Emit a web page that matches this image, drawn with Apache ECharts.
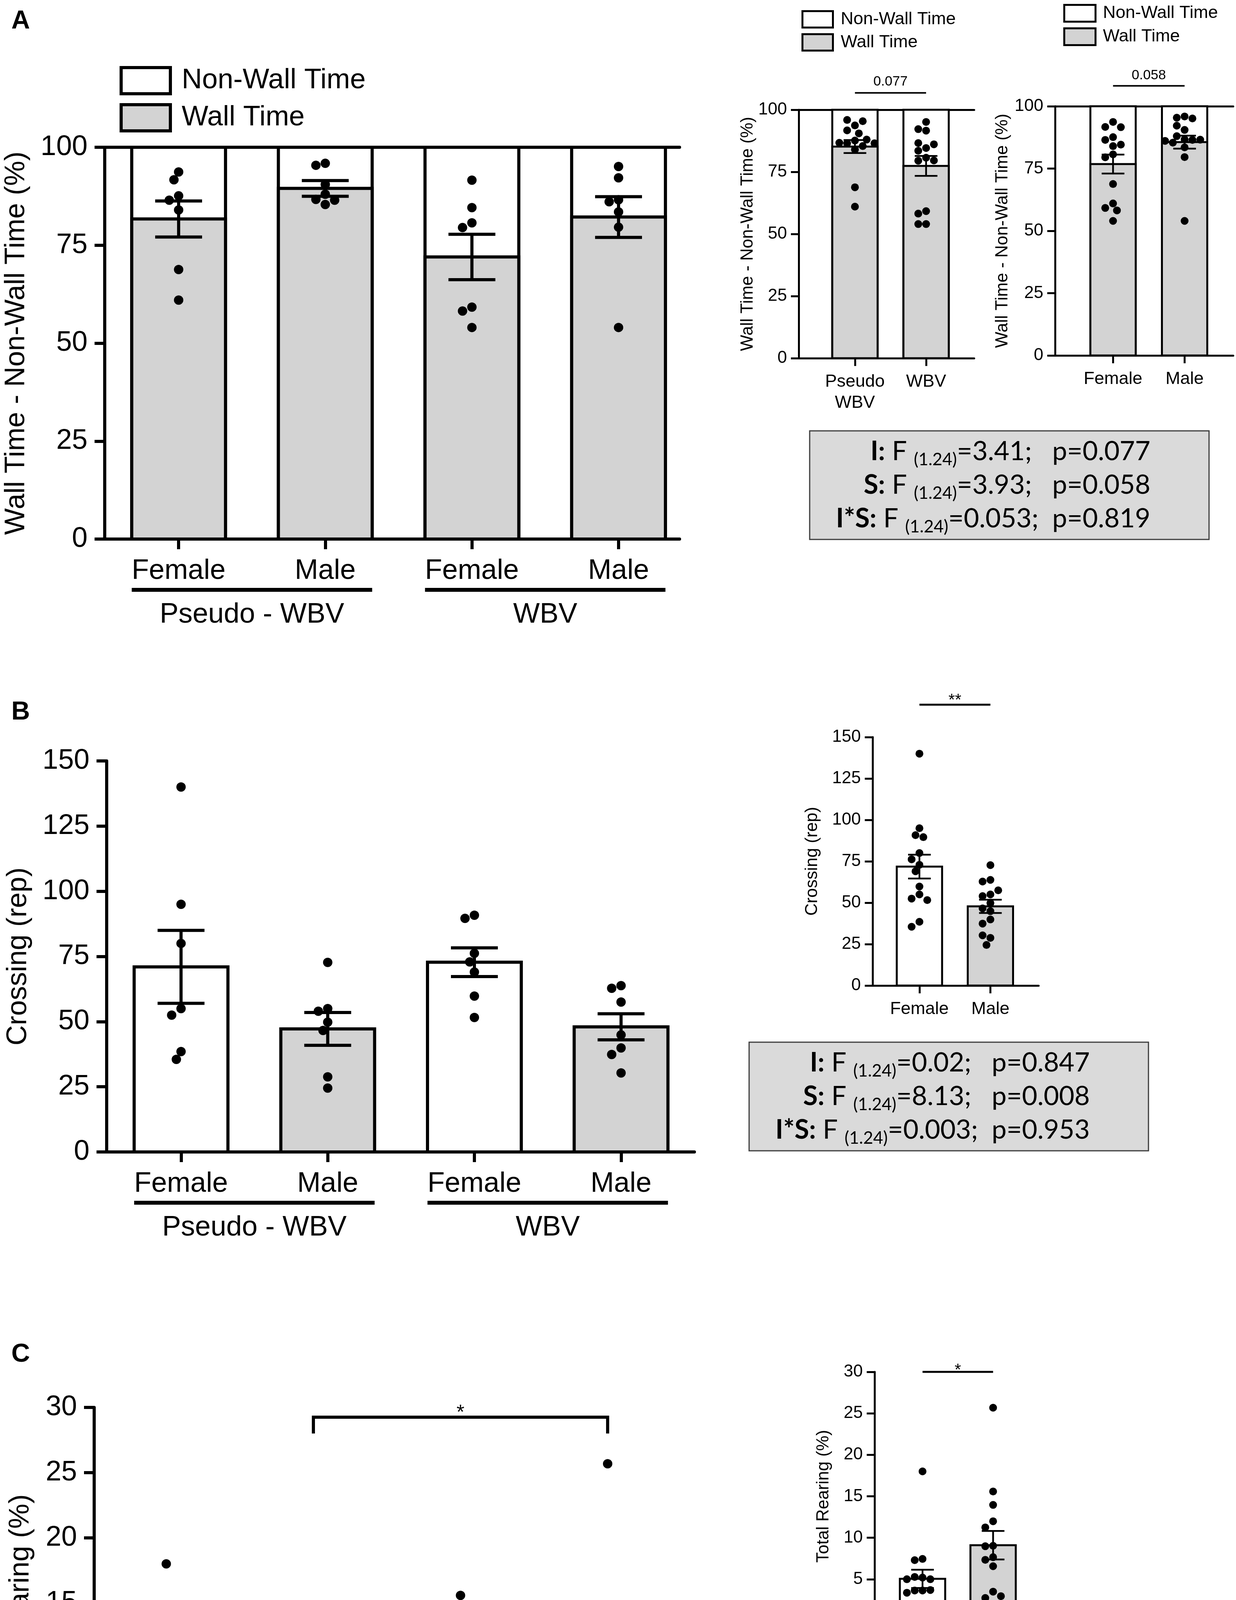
<!DOCTYPE html>
<html>
<head>
<meta charset="utf-8">
<title>Wall time, crossing and rearing</title>
<script src="https://cdn.jsdelivr.net/npm/echarts@6/dist/echarts.min.js"></script>
<style>
  html, body { margin: 0; padding: 0; background: #fff; }
  #chart { width: 3163px; height: 4832px; }
</style>
</head>
<body>
<div id="chart"></div>
<script>
// ---------- data ----------
var sexCats = ['Female', 'Male', 'Female', 'Male'];
var groupNames = ['Pseudo - WBV', 'WBV'];
var treatCats = ['Pseudo\nWBV', 'WBV'];
var sexPair = ['Female', 'Male'];

// A - wall time (%), order: pseudo F, pseudo M, WBV F, WBV M
var aDots = [
  [93.7, 91.7, 87.6, 86.5, 84.0, 68.8, 61.0],
  [95.9, 95.4, 90.5, 88.0, 86.7, 86.5, 85.4],
  [91.6, 84.6, 80.7, 79.5, 59.2, 58.2, 54.0],
  [95.1, 92.2, 86.6, 86.1, 83.5, 79.6, 54.0]
];
var aMean = [81.7, 89.5, 72.0, 82.2];
var aSem = [4.6, 2.0, 5.8, 5.2];
var aTotal = [100, 100, 100, 100];
var aTreatMean = [85.2, 77.4];
var aTreatSem = [2.6, 4.0];
var aSexMean = [76.8, 85.6];
var aSexSem = [3.8, 2.6];

// B - crossing (rep)
var bDots = [
  [140, 95, 80, 55, 52.5, 38.5, 35.5],
  [72.7, 55, 54, 49.8, 46.6, 28.8, 24.5],
  [90.8, 89.6, 76.2, 72.9, 69, 59.8, 51.6],
  [63.8, 62.8, 57.5, 44.9, 39.9, 37.4, 30.3]
];
var bMean = [71.0, 47.2, 72.8, 48.0];
var bSem = [14.0, 6.3, 5.5, 5.0];
var bSexMean = [71.8, 47.8];
var bSexSem = [7.2, 4.0];

// C - total rearing (%)
var cDots = [
  [18.0, 7.45, 7.3, 5.2, 3.64, 3.64, 1.94],
  [5.28, 5.0, 5.0, 3.7, 3.37, 1.59, 0.27],
  [15.58, 7.66, 7.34, 6.57, 3.5, 2.74, 0.77],
  [25.68, 13.96, 11.99, 11.25, 9.03, 8.98, 2.96]
];
var cMean = [6.75, 3.45, 6.3, 12.0];
var cSem = [2.0, 0.72, 1.85, 2.6];
var cTreatMean = [5.05, 9.1];
var cTreatSem = [1.1, 1.72];

// two-way ANOVA boxes: term, F, p
var statsA = [['I', '3.41', '0.077'], ['S', '3.93', '0.058'], ['I*S', '0.053', '0.819']];
var statsB = [['I', '0.02', '0.847'], ['S', '8.13', '0.008'], ['I*S', '0.003', '0.953']];
var statsC = [['I', '4.42', '0.046'], ['S', '0.38', '0.541'], ['I*S', '5.48', '0.027']];

// ---------- drawing ----------
var FONT = '"Liberation Sans", Arial, Helvetica, sans-serif';
var BOXFONT = 'Lato, "Open Sans", sans-serif';
var GRAY = '#d3d3d3';

var option = {
  backgroundColor: '#fff',
  animation: false,
  grid: [], xAxis: [], yAxis: [], series: [], legend: [], graphic: []
};

// greedy bee-swarm: returns horizontal pixel offsets for each value
function swarm(vals, pxPerUnit, dia) {
  var placed = [], offs = [];
  vals.forEach(function (v) {
    var y = v * pxPerUnit;
    for (var k = 0; k < 40; k++) {
      var dx = (k % 2 ? -1 : 1) * Math.ceil(k / 2) * dia * 0.5;
      var ok = placed.every(function (p) {
        var ddx = p[0] - dx, ddy = p[1] - y;
        return ddx * ddx + ddy * ddy >= dia * dia * 0.92;
      });
      if (ok) { placed.push([dx, y]); offs.push(dx); return; }
    }
    offs.push(0);
  });
  return offs;
}

function addPanel(p) {
  var st = p.main
    ? { axW: 8, tick: 26, font: 72, barW: 240, border: 8, dot: 24, err: 8, cap: 120, lblMargin: 46, lblLH: 72, yMargin: 44 }
    : { axW: 5, tick: 20, font: 45, barW: 116, border: 5, dot: 20, err: 4.5, cap: 58, lblMargin: 34, lblLH: 54, yMargin: 30 };
  var gi = option.grid.length;
  option.grid.push({ left: p.box[0], top: p.box[1], width: p.box[2], height: p.box[3] });
  var ticks = p.cats.map(function (c, i) { return i; });
  var xi = option.xAxis.length;
  option.xAxis.push({
    type: 'value', gridIndex: gi, min: p.xMin, max: p.xMax,
    axisLine: { show: true, onZero: false, lineStyle: { color: '#000', width: st.axW } },
    axisTick: { show: true, customValues: ticks, length: st.tick, lineStyle: { color: '#000', width: st.axW } },
    axisLabel: {
      customValues: ticks, color: '#000', fontSize: st.font, fontFamily: FONT,
      margin: st.lblMargin, lineHeight: st.lblLH,
      formatter: function (v) { return p.cats[Math.round(v)]; }
    },
    splitLine: { show: false }
  });
  if (p.topLine) {
    option.xAxis.push({
      type: 'value', gridIndex: gi, position: 'top', min: p.xMin, max: p.xMax,
      axisLine: { show: true, onZero: false, lineStyle: { color: '#000', width: st.axW } },
      axisTick: { show: false }, axisLabel: { show: false }, splitLine: { show: false }
    });
  }
  var yi = option.yAxis.length;
  option.yAxis.push({
    type: 'value', gridIndex: gi, min: 0, max: p.yMax, interval: p.yStep,
    name: p.yName, nameLocation: 'middle', nameGap: p.nameGap,
    nameTextStyle: { color: '#000', fontSize: p.main ? 72 : 44, fontFamily: FONT },
    axisLine: { show: true, onZero: false, lineStyle: { color: '#000', width: st.axW } },
    axisTick: { show: true, length: st.tick, lineStyle: { color: '#000', width: st.axW } },
    axisLabel: { color: '#000', fontSize: p.main ? 72 : 44, fontFamily: FONT, margin: st.yMargin },
    splitLine: { show: false }
  });
  var common = { type: 'custom', xAxisIndex: xi, yAxisIndex: yi, clip: false, encode: { x: 0, y: 1 }, silent: true };

  // bars
  p.layers.forEach(function (L, li) {
    option.series.push(Object.assign({}, common, {
      name: L.name, z: 2 + li,
      itemStyle: { color: L.fill[0] },
      data: L.values.map(function (v, i) { return [i, v]; }),
      renderItem: function (params, api) {
        var base = api.coord([api.value(0), 0]);
        var top = api.coord([api.value(0), api.value(1)]);
        return {
          type: 'rect',
          shape: { x: base[0] - st.barW / 2, y: top[1], width: st.barW, height: base[1] - top[1] },
          style: { fill: L.fill[params.dataIndex % L.fill.length], stroke: '#000', lineWidth: st.border }
        };
      }
    }));
  });

  // dots
  var pxPerUnit = p.box[3] / p.yMax;
  var dotData = [];
  p.dots.forEach(function (vals, i) {
    var offs = swarm(vals, pxPerUnit, st.dot);
    vals.forEach(function (v, j) { dotData.push([i, v, offs[j]]); });
  });
  option.series.push(Object.assign({}, common, {
    name: 'dots', z: 6, data: dotData,
    renderItem: function (params, api) {
      var c = api.coord([api.value(0), api.value(1)]);
      return { type: 'circle', shape: { cx: c[0] + api.value(2), cy: c[1], r: st.dot / 2 }, style: { fill: '#000' } };
    }
  }));

  // mean +/- SEM
  option.series.push(Object.assign({}, common, {
    name: 'sem', z: 7,
    data: p.mean.map(function (m, i) { return [i, m, p.sem[i]]; }),
    renderItem: function (params, api) {
      var x = api.value(0), m = api.value(1), s = api.value(2);
      var t = api.coord([x, m + s]), b = api.coord([x, m - s]);
      function ln(x1, y1, x2, y2) {
        return { type: 'line', shape: { x1: x1, y1: y1, x2: x2, y2: y2 }, style: { stroke: '#000', lineWidth: st.err } };
      }
      return { type: 'group', children: [
        ln(t[0], t[1], b[0], b[1]),
        ln(t[0] - st.cap / 2, t[1], t[0] + st.cap / 2, t[1]),
        ln(b[0] - st.cap / 2, b[1], b[0] + st.cap / 2, b[1])
      ] };
    }
  }));

  // group bars under the category labels
  if (p.groups) {
    option.series.push(Object.assign({}, common, {
      name: 'groups', z: 3,
      data: [[0, 0, 1], [2, 0, 3]],
      renderItem: function (params, api) {
        var a = api.coord([api.value(0), 0]), b = api.coord([api.value(2), 0]);
        var x1 = a[0] - st.barW / 2, x2 = b[0] + st.barW / 2, y = a[1] + 130;
        return { type: 'group', children: [
          { type: 'line', shape: { x1: x1, y1: y, x2: x2, y2: y }, style: { stroke: '#000', lineWidth: 10 } },
          { type: 'text', style: {
            text: groupNames[params.dataIndex], x: (x1 + x2) / 2, y: y + 64,
            fill: '#000', fontSize: 72, fontFamily: FONT,
            align: 'center', verticalAlign: 'middle', textAlign: 'center', textVerticalAlign: 'middle'
          } }
        ] };
      }
    }));
  }

  // significance line / bracket
  if (p.sig) {
    var s = p.sig;
    option.series.push(Object.assign({}, common, {
      name: 'sig', z: 3,
      data: [[s.from, s.y, s.to]],
      renderItem: function (params, api) {
        var a = api.coord([api.value(0), api.value(1)]), b = api.coord([api.value(2), api.value(1)]);
        var kids = [];
        if (s.leg != null) {
          var l = api.coord([api.value(0), s.leg]);
          kids.push({ type: 'polyline', shape: { points: [[a[0], l[1]], [a[0], a[1]], [b[0], b[1]], [b[0], l[1]]] },
            style: { stroke: '#000', lineWidth: s.lw, fill: null } });
        } else {
          kids.push({ type: 'line', shape: { x1: a[0], y1: a[1], x2: b[0], y2: b[1] }, style: { stroke: '#000', lineWidth: s.lw } });
        }
        kids.push({ type: 'text', style: {
          text: s.text, x: (a[0] + b[0]) / 2, y: a[1] - s.gap, fill: '#000', fontSize: s.font, fontFamily: FONT,
          align: 'center', verticalAlign: 'middle', textAlign: 'center', textVerticalAlign: 'middle'
        } });
        return { type: 'group', children: kids };
      }
    }));
  }
}

function wallLegend(left, top, w, h, gap, bw, font, pad) {
  option.legend.push({
    orient: 'vertical', left: left, top: top, padding: 0, itemGap: gap,
    itemWidth: w, itemHeight: h, icon: 'rect', selectedMode: false,
    data: [
      { name: 'Non-Wall Time', itemStyle: { color: '#fff', borderColor: '#000', borderWidth: bw } },
      { name: 'Wall Time', itemStyle: { color: GRAY, borderColor: '#000', borderWidth: bw } }
    ],
    textStyle: { color: '#000', fontSize: font, fontFamily: FONT, padding: [0, 0, 0, pad] }
  });
}

function statsBox(rows, x, y, w, h) {
  var lines = rows.map(function (r) {
    var pad = new Array(Math.max(2, 8 - r[1].length)).join(' ');
    return '{b|' + r[0] + ':}{n| F }{s|(1.24)}{n|=' + r[1] + ';' + pad + 'p=' + r[2] + '}';
  });
  option.graphic.push({
    type: 'rect', shape: { x: x, y: y, width: w, height: h },
    style: { fill: '#dadada', stroke: '#3c3c3c', lineWidth: 3 }, z: 1
  });
  option.graphic.push({
    type: 'text', x: x + w - 150, y: y + h / 2, z: 2,
    style: {
      text: lines.join('\n'), align: 'right', verticalAlign: 'middle', textAlign: 'right', textVerticalAlign: 'middle',
      rich: {
        b: { fontSize: 68, fontWeight: 'bold', fontFamily: BOXFONT, lineHeight: 86, fill: '#000', verticalAlign: 'middle' },
        n: { fontSize: 68, fontFamily: BOXFONT, lineHeight: 86, fill: '#000', verticalAlign: 'middle' },
        s: { fontSize: 44, fontFamily: BOXFONT, lineHeight: 52, fill: '#000', verticalAlign: 'bottom' }
      }
    }
  });
}

// ---- panel A ----
addPanel({
  main: true, box: [268, 377, 1471, 1003], xMin: -0.504, xMax: 3.416,
  cats: sexCats, yMax: 100, yStep: 25, yName: 'Wall Time - Non-Wall Time (%)', nameGap: 190,
  layers: [{ name: 'Non-Wall Time', values: aTotal, fill: ['#fff'] }, { name: 'Wall Time', values: aMean, fill: [GRAY] }],
  mean: aMean, sem: aSem, dots: aDots, topLine: true, groups: true
});
addPanel({
  main: false, box: [2044, 281, 449, 636], xMin: -0.79, xMax: 1.676,
  cats: treatCats, yMax: 100, yStep: 25, yName: 'Wall Time - Non-Wall Time (%)', nameGap: 108,
  layers: [{ name: 'Non-Wall Time', values: [100, 100], fill: ['#fff'] }, { name: 'Wall Time', values: aTreatMean, fill: [GRAY] }],
  mean: aTreatMean, sem: aTreatSem, topLine: true,
  dots: [aDots[0].concat(aDots[1]), aDots[2].concat(aDots[3])],
  sig: { from: 0, to: 1, y: 106.8, text: '0.077', gap: 28, font: 35, lw: 4 }
});
addPanel({
  main: false, box: [2700, 272, 456, 638], xMin: -0.81, xMax: 1.68,
  cats: sexPair, yMax: 100, yStep: 25, yName: 'Wall Time - Non-Wall Time (%)', nameGap: 112,
  layers: [{ name: 'Non-Wall Time', values: [100, 100], fill: ['#fff'] }, { name: 'Wall Time', values: aSexMean, fill: [GRAY] }],
  mean: aSexMean, sem: aSexSem, topLine: true,
  dots: [aDots[0].concat(aDots[2]), aDots[1].concat(aDots[3])],
  sig: { from: 0, to: 1, y: 108.2, text: '0.058', gap: 26, font: 35, lw: 4 }
});
wallLegend(306, 169, 126, 67, 20, 8, 72, 24);
wallLegend(2051, 26, 78, 42, 12, 5, 45, 15);
wallLegend(2721, 10, 80, 43, 12, 5, 45, 14);

// ---- panel B ----
addPanel({
  main: true, box: [273, 1948, 1504, 1001], xMin: -0.507, xMax: 3.5,
  cats: sexCats, yMax: 150, yStep: 25, yName: 'Crossing (rep)', nameGap: 190,
  layers: [{ name: 'Crossing', values: bMean, fill: ['#fff', GRAY] }],
  mean: bMean, sem: bSem, dots: bDots, groups: true
});
addPanel({
  main: false, box: [2233, 1887, 425, 636], xMin: -0.66, xMax: 1.68,
  cats: sexPair, yMax: 150, yStep: 25, yName: 'Crossing (rep)', nameGap: 132,
  layers: [{ name: 'Crossing sex', values: bSexMean, fill: ['#fff', GRAY] }],
  mean: bSexMean, sem: bSexSem,
  dots: [bDots[0].concat(bDots[2]), bDots[1].concat(bDots[3])],
  sig: { from: 0, to: 1, y: 169.6, text: '**', gap: 10, font: 42, lw: 5 }
});

// ---- panel C ----
addPanel({
  main: true, box: [241, 3603, 1506, 1001], xMin: -0.49, xMax: 3.51,
  cats: sexCats, yMax: 30, yStep: 5, yName: 'Total Rearing (%)', nameGap: 152,
  layers: [{ name: 'Rearing', values: cMean, fill: ['#fff', GRAY] }],
  mean: cMean, sem: cSem, dots: cDots, groups: true,
  sig: { from: 1, to: 3, y: 29.25, leg: 28, text: '*', gap: 10, font: 52, lw: 8 }
});
addPanel({
  main: false, box: [2238, 3512, 428, 637], xMin: -0.68, xMax: 1.69,
  cats: treatCats, yMax: 30, yStep: 5, yName: 'Total Rearing (%)', nameGap: 108,
  layers: [{ name: 'Rearing treat', values: cTreatMean, fill: ['#fff', GRAY] }],
  mean: cTreatMean, sem: cTreatSem,
  dots: [cDots[0].concat(cDots[1]), cDots[2].concat(cDots[3])],
  sig: { from: 0, to: 1, y: 30, text: '*', gap: 4, font: 42, lw: 5 }
});

// stats boxes
statsBox(statsA, 2072, 1103, 1022, 278);
statsBox(statsB, 1917, 2668, 1022, 278);
statsBox(statsC, 1917, 4328, 1022, 277);

// panel letters
[['A', 55], ['B', 1824], ['C', 3468]].forEach(function (L) {
  option.graphic.push({
    type: 'text', x: 29, y: L[1],
    style: { text: L[0], fontSize: 66, fontWeight: 'bold', fontFamily: FONT, fill: '#000',
      verticalAlign: 'middle', textVerticalAlign: 'middle' }
  });
});

var chart = echarts.init(document.getElementById('chart'));
chart.setOption(option);
</script>
</body>
</html>
